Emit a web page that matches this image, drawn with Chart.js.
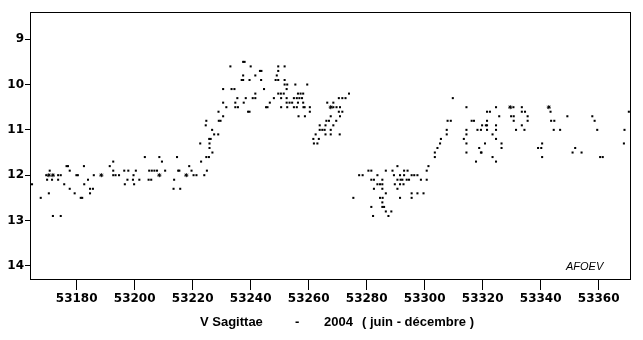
<!DOCTYPE html>
<html>
<head>
<meta charset="utf-8">
<script src="https://cdn.jsdelivr.net/npm/chart.js@4/dist/chart.umd.min.js"></script>
<style>
  html, body { margin: 0; padding: 0; background: #ffffff; }
  #wrap { width: 643px; height: 340px; }
</style>
</head>
<body>
<div id="wrap"><canvas id="lightCurve"></canvas></div>
<script>
// V Sagittae observations, JD - 2400000 and visual magnitude
var jd = [53164.6,53167.6,53169.5,53169.8,53170.7,53171.5,53171.8,53173.6,53173.6,53174.5,53174.5,53175.7,53176.5,53177.0,53177.6,53177.6,53170.4,53179.3,53179.9,53180.4,53181.4,53181.9,53182.5,53182.6,53183.9,53184.6,53185.6,53184.6,53185.9,53191.4,53192.6,53192.6,53192.6,53193.4,53194.6,53196.4,53196.6,53197.5,53197.8,53199.4,53199.6,53199.8,53200.4,
  53201.6,53203.5,53204.8,53205.7,53205.0,53205.9,53206.8,53207.7,53208.5,53209.4,53210.5,53213.4,53213.6,53214.6,53215.0,53215.4,53215.7,53218.8,53219.6,53220.3,53221.3,53222.6,53222.9,53224.0,53224.5,53224.7,53224.7,53224.9,53225.6,53225.8,53225.8,53225.7,53226.2,53226.7,53226.8,53227.4,53228.8,53228.9,53229.0,53229.6,53230.5,53230.5,53230.5,53231.6,
  53233.0,53233.4,53234.4,53234.7,53234.7,53235.4,53235.6,53236.9,53237.4,53237.4,53237.4,53237.9,53237.6,53238.3,53239.1,53239.6,53239.6,53240.0,53240.7,53241.6,53241.6,53241.6,53243.2,53243.7,53243.6,53244.6,53245.3,53245.8,53246.6,53248.0,53248.6,53249.0,53249.5,53249.5,53249.5,53249.5,53250.4,53250.5,53250.5,53251.4,53251.7,53251.7,53251.7,53252.4,53252.4,53252.4,53252.6,53252.6,53253.4,53254.3,53254.9,53254.9,53255.4,53255.9,53255.9,53256.3,53256.3,53256.5,53256.8,53257.2,53257.7,53258.1,53258.1,53258.2,53258.7,53258.6,53259.5,53260.4,53260.4,
  53261.6,53261.8,53262.4,53263.0,53263.5,53263.8,53263.8,53264.7,53265.5,53265.8,53265.8,53266.1,53266.4,53267.0,53267.6,53267.6,53267.6,53268.5,53268.5,53268.5,53269.5,53269.6,53270.4,53270.4,53270.7,53270.8,53270.8,53271.6,53271.6,53272.7,53273.9,
  53275.4,53277.4,53278.6,53280.6,53281.6,53281.6,53282.5,53281.6,53282.2,53282.5,53283.7,53283.7,53284.6,53284.6,53285.4,53285.4,53285.4,53285.5,53285.4,53285.4,53286.0,53286.6,53286.6,53286.6,53287.5,53288.5,53288.9,53289.4,53289.7,53290.6,53290.6,53290.6,53291.5,53291.5,53291.5,53291.7,53292.3,53292.7,53292.9,53292.9,53293.8,53294.1,53294.6,53295.5,53295.5,53295.5,53296.4,53297.5,53297.5,53298.7,53299.6,53300.7,53300.7,53301.3,
  53303.5,53303.5,53304.4,53305.3,53305.6,53307.6,53307.6,53307.9,53309.0,53309.7,53313.5,53314.4,53314.4,53314.4,53314.4,53314.4,53316.2,53317.0,53317.7,53318.2,53318.8,53319.4,53319.4,53319.6,53319.8,53320.8,53321.1,53321.5,53321.5,53321.5,53321.5,53322.5,53323.4,53323.4,53324.6,53324.6,53324.6,53324.6,53324.6,53325.7,53326.5,53326.5,
  53329.8,53330.6,53330.7,53330.7,53331.5,53333.5,53333.5,53333.5,53334.4,53334.6,53335.5,53335.5,53339.1,53340.2,53340.5,53340.5,53343.4,53343.6,53344.5,53344.7,53346.7,53349.2,53351.0,53351.9,53354.1,53357.8,53358.6,53359.5,53360.5,53361.4,53368.7,53368.9,53370.4];
var mag = [12.2,12.5,12.0,12.1,11.9,12.1,12.9,12.0,12.1,12.0,12.9,12.2,11.8,11.8,11.9,12.3,12.4,12.4,12.0,12.0,12.5,12.5,11.8,12.2,12.1,12.3,12.3,12.4,12.0,11.8,11.7,11.9,12.0,12.0,12.0,11.9,12.2,12.1,11.9,12.1,12.0,12.2,11.9,
  12.1,11.6,12.1,12.1,11.9,11.9,11.9,11.9,11.6,11.7,11.9,12.3,12.1,11.6,11.9,11.9,12.3,11.8,11.9,12.0,12.0,11.3,11.7,12.0,10.9,10.8,11.6,11.9,11.6,11.3,11.4,11.2,11.2,11.0,11.5,11.1,11.1,10.6,10.8,10.8,10.7,10.4,10.1,10.5,
  9.6,10.1,10.1,10.4,10.5,10.3,10.5,9.9,9.9,9.8,9.5,9.5,10.4,10.3,10.6,10.6,9.9,9.6,10.3,9.8,10.2,10.3,9.7,9.7,9.9,10.1,10.5,10.5,10.4,10.3,9.9,9.8,9.6,9.7,9.9,10.2,10.2,10.3,10.5,10.2,9.6,9.9,10.0,10.1,10.3,10.4,10.0,10.5,10.4,10.4,10.3,10.5,10.0,10.3,10.5,10.2,10.4,10.7,10.3,10.2,10.3,10.2,10.4,10.5,10.7,10.5,10.0,10.5,10.6,
  11.2,11.3,11.1,11.3,11.2,10.9,11.0,11.0,11.0,10.9,11.1,10.8,10.4,10.8,10.7,11.0,11.1,10.4,10.5,10.9,10.8,10.5,10.3,10.6,11.1,10.5,10.7,10.3,10.6,10.3,10.2,
  12.5,12.0,12.0,11.9,11.9,12.1,12.1,12.7,12.9,12.3,12.0,12.2,12.2,12.5,12.1,12.2,12.3,12.5,12.6,12.7,12.7,11.9,12.4,12.8,12.9,12.8,11.9,12.0,12.2,11.8,12.1,12.3,12.0,12.2,12.5,12.1,12.1,12.2,11.9,12.0,12.1,11.9,12.1,12.0,12.4,12.5,12.0,12.0,12.4,12.1,12.4,11.9,12.1,11.8,
  11.5,11.6,11.4,11.3,11.2,11.0,11.1,10.8,10.8,10.3,11.2,10.5,11.0,11.1,11.3,11.5,10.8,10.8,11.7,11.0,11.4,11.0,11.5,11.5,10.9,11.3,10.9,10.6,10.8,10.9,11.0,10.6,11.1,11.6,10.5,10.9,11.0,11.2,11.7,10.7,11.3,11.4,
  10.7,10.5,10.7,10.8,11.0,10.5,10.6,10.9,11.0,10.6,10.7,10.8,11.4,11.4,11.3,11.6,10.6,10.8,11.0,10.8,11.0,10.7,11.5,11.4,11.5,10.7,10.8,11.0,11.6,11.6,11.3,11.0,10.6];

// estimates marked with a small star in the original
var crossJd = [53170.4,53171.8,53188.5,53208.5,53217.8,53267.6,53329.5,53342.8];
var crossMag = [12.0,12.0,12.0,12.0,12.0,10.5,10.5,10.5];

var xRange = [53163.9, 53370.8];
var yRange = [8.4, 14.29];

function toPoints(xs, ys) {
  var pts = [];
  for (var i = 0; i < xs.length; i++) {
    pts.push({x: xs[i], y: ys[i]});
  }
  return pts;
}

var tickFont = {family: 'DejaVu Sans', size: 12, weight: 'bold'};

// frame, caption and AFOEV stamp
var framePlugin = {
  id: 'frame',
  afterDraw: function(chart) {
    var ctx = chart.ctx;
    var a = chart.chartArea;
    ctx.save();
    ctx.strokeStyle = '#000000';
    ctx.lineWidth = 1;
    ctx.strokeRect(Math.round(a.left) + 0.5, Math.round(a.top) + 0.5,
      Math.round(a.right - a.left), Math.round(a.bottom - a.top));
    ctx.fillStyle = '#000000';
    ctx.textBaseline = 'middle';
    ctx.textAlign = 'left';
    ctx.font = 'bold 13px "Liberation Sans", Arial, sans-serif';
    ctx.fillText('V Sagittae', 200, 322);
    ctx.fillText('-', 295, 322);
    ctx.fillText('2004', 324, 322);
    ctx.fillText('( juin - décembre )', 362, 322);
    ctx.font = 'italic 11px "Liberation Sans", Arial, sans-serif';
    ctx.fillText('AFOEV', 566, 267);
    ctx.restore();
  }
};

var ctx = document.getElementById('lightCurve').getContext('2d');
var chart = new Chart(ctx, {
  type: 'scatter',
  data: {
    datasets: [
      {
        data: toPoints(jd, mag),
        pointStyle: 'rect',
        pointRadius: 1.45,
        pointBorderWidth: 0,
        backgroundColor: '#000000',
        borderColor: '#000000'
      },
      {
        data: toPoints(crossJd, crossMag),
        pointStyle: 'star',
        pointRadius: 2,
        pointBorderWidth: 1,
        backgroundColor: '#000000',
        borderColor: '#000000'
      }
    ]
  },
  options: {
    responsive: true,
    maintainAspectRatio: false,
    animation: false,
    events: [],
    layout: {padding: {left: 0, right: 13, top: 12, bottom: 0}},
    plugins: {legend: {display: false}, tooltip: {enabled: false}},
    scales: {
      x: {
        type: 'linear',
        min: xRange[0],
        max: xRange[1],
        border: {display: false},
        grid: {drawOnChartArea: false, tickLength: 11, color: '#000000', lineWidth: 1},
        ticks: {stepSize: 20, includeBounds: false, padding: 2, color: '#000000', font: tickFont, maxRotation: 0,
          callback: function(v) { return String(v); }},
        afterFit: function(scale) { scale.height = 61; }
      },
      y: {
        reverse: true,
        min: yRange[0],
        max: yRange[1],
        border: {display: false},
        grid: {drawOnChartArea: false, tickLength: 5, color: '#000000', lineWidth: 1},
        ticks: {stepSize: 1, includeBounds: false, padding: 1, color: '#000000', font: tickFont},
        afterFit: function(scale) { scale.width = 30; }
      }
    }
  },
  plugins: [framePlugin]
});
</script>
</body>
</html>
